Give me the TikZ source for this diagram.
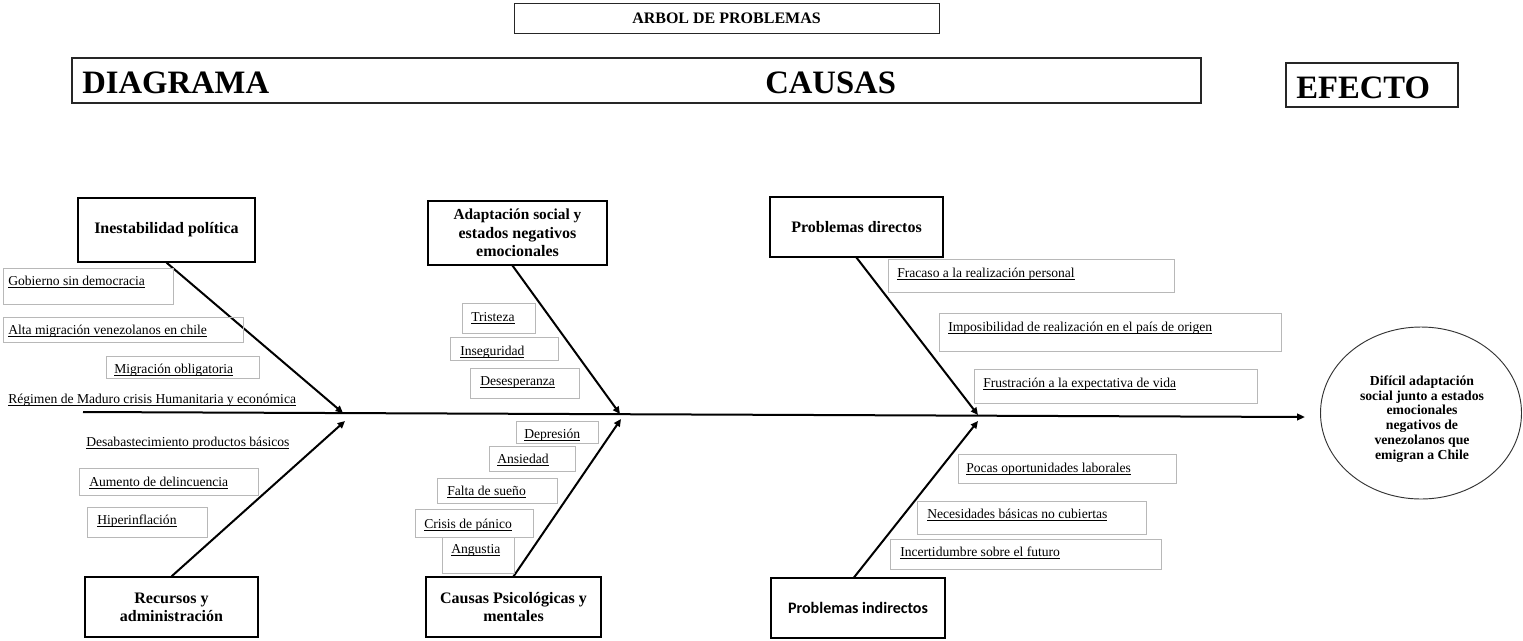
\documentclass[tikz,border=0pt]{standalone}
\usepackage{fontspec}
\setmainfont{Liberation Serif}
\newfontfamily\calibrifont{Carlito}
\usetikzlibrary{arrows.meta,shapes.geometric}
\newcommand{\uln}[1]{\leavevmode\setbox0=\hbox{#1}\rlap{\rule[-1.6pt]{\wd0}{0.45pt}}\box0}
\newcommand{\ibox}[5]{\node[itm, minimum width={(#3-#2)*0.75pt}, minimum height={(#5-#4)*0.75pt}] (#1) at ({(#2+#3)/2},{(#4+#5)/2}) {};}
\newcommand{\hdrbox}[6]{\node[hdr, minimum width={(#3-#2)*0.75pt}, minimum height={(#5-#4)*0.75pt}] (#1) at ({(#2+#3)/2},{(#4+#5)/2}) {#6};}
\begin{document}
\begin{tikzpicture}[x=0.75pt,y=-0.75pt,
  hdr/.style={draw=black, line width=0.9pt, font=\bfseries\fontsize{12}{13.75}\selectfont, align=center, inner sep=0pt},
  itm/.style={draw=black!28, line width=0.6pt, inner sep=0pt},
  itxt/.style={anchor=base west, inner sep=0pt, font=\fontsize{10.2}{12}\selectfont},
  big/.style={anchor=base west, inner sep=0pt, font=\bfseries\fontsize{24.5}{26}\selectfont},
  bone/.style={line width=1.5pt, -{Triangle[length=5.5pt,width=5pt]}},
]
\useasboundingbox (0,0) rectangle (1523,640);

% titles
\node[draw=black!85, line width=0.7pt, minimum width={425*0.75pt}, minimum height={30*0.75pt}, inner sep=0pt,
      font=\bfseries\fontsize{12}{14}\selectfont] (arbol) at (726.5,18) {ARBOL DE PROBLEMAS};
\node[draw=black!85, line width=0.8pt, minimum width={1129*0.75pt}, minimum height={45*0.75pt}, inner sep=0pt] (diagbox) at (636.5,80.5) {};
\node[big] (diag) at (82,93) {DIAGRAMA};
\node[big] (causas) at (765,93) {CAUSAS};
\node[draw=black!85, line width=0.8pt, minimum width={172*0.75pt}, minimum height={44*0.75pt}, inner sep=0pt] (efbox) at (1372,85) {};
\node[big] (efecto) at (1296,98) {EFECTO};

% spine
\coordinate (sL) at (83,412);
\coordinate (sR) at (1305,417);
\draw[line width=1.5pt, -{Triangle[length=6pt,width=5pt]}] (sL) -- (sR);
\coordinate (e1u) at (343,413);
\coordinate (e1d) at (345,421);
\coordinate (e2u) at (620,414);
\coordinate (e2d) at (621,419);
\coordinate (e3u) at (978,415);
\coordinate (e3d) at (978,421);

% header boxes
\hdrbox{inest}{78}{255}{198}{262}{Inestabilidad política}
\hdrbox{recur}{85}{258}{577}{637}{Recursos y\\administración}
\hdrbox{adapt}{428}{607}{201}{265}{\fontsize{11.5}{13.7}\selectfont Adaptación social y\\estados negativos\\emocionales}
\hdrbox{psico}{426}{601}{577}{637}{Causas Psicológicas y\\mentales}
\hdrbox{pdir}{770}{943}{197}{257}{Problemas directos}
\hdrbox{pind}{771}{945}{578}{638}{\calibrifont\bfseries Problemas indirectos}

% effect
\node[draw=black!80, line width=0.7pt, ellipse, minimum width={201*0.75pt}, minimum height={172*0.75pt}, inner sep=0pt] (efecto circ) at (1421,413) {};
\node[font=\bfseries\fontsize{10.3}{11.1}\selectfont, align=center, inner sep=0pt] (eftxt) at (1422,419)
  {Difícil adaptación\\social junto a estados\\emocionales\\negativos de\\venezolanos que\\emigran a Chile};

% bones
\draw[bone] (inest.south) -- (e1u);
\draw[bone] (recur.north) -- (e1d);
\draw[bone] ([xshift={-5*0.75pt}]adapt.south) -- (e2u);
\draw[bone] (psico.north) -- (e2d);
\draw[bone] (pdir.south) -- (e3u);
\draw[bone] ([xshift={-4*0.75pt}]pind.north) -- (e3d);

% left items
\ibox{b-gob}{3}{173}{268}{304}
\node[itxt] (t-gob) at (8,285) {\uln{Gobierno sin democracia}};
\ibox{b-alta}{3}{243}{317}{342}
\node[itxt] (t-alta) at (8,334) {\uln{Alta migración venezolanos en chile}};
\ibox{b-mig}{106}{259}{356}{378}
\node[itxt] (t-mig) at (114,373) {\uln{Migración obligatoria}};
\node[itxt] (t-reg) at (8,403) {\uln{Régimen de Maduro crisis Humanitaria y económica}};
\node[itxt] (t-des) at (86,446) {\uln{Desabastecimiento productos básicos}};
\ibox{b-aum}{79}{258}{468}{495}
\node[itxt] (t-aum) at (89,486) {\uln{Aumento de delincuencia}};
\ibox{b-hip}{87}{207}{507}{537}
\node[itxt] (t-hip) at (97,524) {\uln{Hiperinflación}};

% middle items
\ibox{b-tri}{462}{535}{303}{333}
\node[itxt] (t-tri) at (471,321) {\uln{Tristeza}};
\ibox{b-ins}{450}{558}{337}{360}
\node[itxt] (t-ins) at (460,355) {\uln{Inseguridad}};
\ibox{b-dsp}{470}{579}{368}{398}
\node[itxt] (t-dsp) at (480,385) {\uln{Desesperanza}};
\ibox{b-dep}{516}{598}{421}{443}
\node[itxt] (t-dep) at (524,438) {\uln{Depresión}};
\ibox{b-ans}{489}{575}{446}{471}
\node[itxt] (t-ans) at (497,463) {\uln{Ansiedad}};
\ibox{b-fal}{437}{557}{478}{503}
\node[itxt] (t-fal) at (447,495) {\uln{Falta de sueño}};
\ibox{b-cri}{415}{533}{509}{537}
\node[itxt] (t-cri) at (424,528) {\uln{Crisis de pánico}};
\ibox{b-ang}{442}{514}{537}{573}
\node[itxt] (t-ang) at (451,553) {\uln{Angustia}};

% right items
\ibox{b-fra}{888}{1174}{259}{292}
\node[itxt] (t-fra) at (897,277) {\uln{Fracaso a la realización personal}};
\ibox{b-imp}{939}{1281}{313}{351}
\node[itxt] (t-imp) at (948,331) {\uln{Imposibilidad de realización en el país de origen}};
\ibox{b-fru}{974}{1257}{369}{403}
\node[itxt] (t-fru) at (983,387) {\uln{Frustración a la expectativa de vida}};
\ibox{b-poc}{958}{1176}{454}{483}
\node[itxt] (t-poc) at (966,472) {\uln{Pocas oportunidades laborales}};
\ibox{b-nec}{917}{1146}{501}{534}
\node[itxt] (t-nec) at (927,518) {\uln{Necesidades básicas no cubiertas}};
\ibox{b-inc}{890}{1161}{539}{569}
\node[itxt] (t-inc) at (900,556) {\uln{Incertidumbre sobre el futuro}};
\end{tikzpicture}
\end{document}
